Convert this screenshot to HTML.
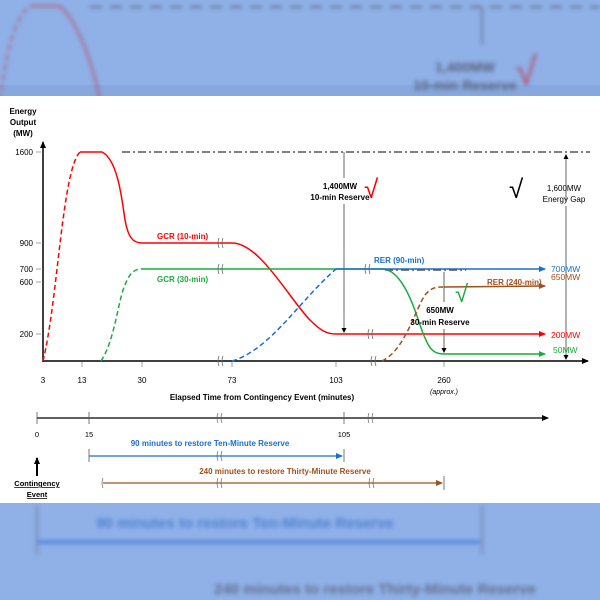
<!DOCTYPE html>
<html><head><meta charset="utf-8"><style>
html,body{margin:0;padding:0;width:600px;height:600px;overflow:hidden;background:#8fb1e8}
svg{display:block;font-family:"Liberation Sans",sans-serif}
</style></head><body>
<svg width="600" height="600" viewBox="0 0 600 600" xmlns="http://www.w3.org/2000/svg">
<defs>
<marker id="ak" markerWidth="8" markerHeight="8" refX="6" refY="3" orient="auto" markerUnits="userSpaceOnUse"><path d="M0,0L7,3L0,6z" fill="#000"/></marker>
<marker id="ar" markerWidth="8" markerHeight="8" refX="6" refY="3" orient="auto" markerUnits="userSpaceOnUse"><path d="M0,0L7,3L0,6z" fill="#f00"/></marker>
<marker id="ag" markerWidth="8" markerHeight="8" refX="6" refY="3" orient="auto" markerUnits="userSpaceOnUse"><path d="M0,0L7,3L0,6z" fill="#1aab3c"/></marker>
<marker id="ab" markerWidth="8" markerHeight="8" refX="6" refY="3" orient="auto" markerUnits="userSpaceOnUse"><path d="M0,0L7,3L0,6z" fill="#1a6fce"/></marker>
<marker id="an" markerWidth="8" markerHeight="8" refX="6" refY="3" orient="auto" markerUnits="userSpaceOnUse"><path d="M0,0L7,3L0,6z" fill="#a0501a"/></marker>
<marker id="as" markerWidth="6" markerHeight="6" refX="4" refY="2.5" orient="auto" markerUnits="userSpaceOnUse"><path d="M0,0L5,2.5L0,5z" fill="#000"/></marker>
<filter id="bl"><feGaussianBlur stdDeviation="2"/></filter>
</defs>
<rect x="0" y="0" width="600" height="96" fill="#8fb1e8"/>
<rect x="0" y="85" width="600" height="12" fill="#7e9fd6" opacity="0.5"/>
<g filter="url(#bl)" opacity="0.75">
<path d="M0,100 Q10,20 30,6" stroke="#c04050" stroke-width="2" fill="none" stroke-dasharray="6,4"/>
<path d="M30,6 L60,6 Q85,30 100,100" stroke="#c04050" stroke-width="2" fill="none"/>
<line x1="90" y1="7" x2="600" y2="7" stroke="#556" stroke-width="2" stroke-dasharray="12,8"/>
<line x1="482" y1="8" x2="482" y2="45" stroke="#556" stroke-width="1.5"/>
<text x="465" y="72" font-size="14" font-weight="bold" fill="#445" text-anchor="middle">1,400MW</text>
<text x="465" y="90" font-size="14" font-weight="bold" fill="#445" text-anchor="middle">10-min Reserve</text>
<text x="515" y="85" font-size="40" fill="#c03040">√</text>
</g>
<rect x="0" y="503" width="600" height="97" fill="#8fb1e8"/>
<g filter="url(#bl)" opacity="0.75">
<text x="245" y="528" font-size="15" font-weight="bold" fill="#3b70c8" text-anchor="middle">90 minutes to restore Ten-Minute Reserve</text>
<line x1="37" y1="505" x2="37" y2="555" stroke="#667" stroke-width="1.5"/>
<line x1="37" y1="542" x2="480" y2="542" stroke="#2f6cd0" stroke-width="3"/>
<line x1="482" y1="505" x2="482" y2="555" stroke="#667" stroke-width="1.5"/>
<text x="375" y="594" font-size="15" font-weight="bold" fill="#556" text-anchor="middle">240 minutes to restore Thirty-Minute Reserve</text>
<line x1="60" y1="612" x2="600" y2="612" stroke="#667" stroke-width="3"/>
</g>
<rect x="0" y="96" width="600" height="407" fill="#fff"/>

<g font-size="8" font-weight="bold" fill="#000" text-anchor="middle">
<text x="23" y="114">Energy</text><text x="23" y="125">Output</text><text x="23" y="136">(MW)</text>
</g>
<line x1="43" y1="362" x2="43" y2="142" stroke="#000" stroke-width="1.5" marker-end="url(#ak)"/>
<line x1="43" y1="361" x2="588" y2="361" stroke="#000" stroke-width="1.5" marker-end="url(#ak)"/>
<g font-size="8" fill="#000" text-anchor="end">
<text x="33" y="155">1600</text><text x="33" y="246">900</text><text x="33" y="272">700</text><text x="33" y="285">600</text><text x="33" y="337">200</text>
</g>
<g stroke="#888" stroke-width="0.8"><line x1="36" y1="152" x2="41" y2="152"/><line x1="36" y1="243" x2="41" y2="243"/><line x1="36" y1="269" x2="41" y2="269"/><line x1="36" y1="282" x2="41" y2="282"/><line x1="36" y1="334" x2="41" y2="334"/>
<line x1="82" y1="362" x2="82" y2="367"/><line x1="142" y1="362" x2="142" y2="367"/><line x1="232" y1="362" x2="232" y2="367"/><line x1="336" y1="362" x2="336" y2="367"/><line x1="444" y1="362" x2="444" y2="367"/></g>
<g font-size="8" fill="#000" text-anchor="middle">
<text x="43" y="383">3</text><text x="82" y="383">13</text><text x="142" y="383">30</text><text x="232" y="383">73</text><text x="336" y="383">103</text><text x="444" y="383">260</text>
<text x="444" y="394" font-style="italic" font-size="7">(approx.)</text>
<text x="262" y="400" font-weight="bold" font-size="8">Elapsed Time from Contingency Event (minutes)</text>
</g>

<line x1="122" y1="152" x2="590" y2="152" stroke="#000" stroke-width="1" stroke-dasharray="8,3,2,3"/>
<line x1="385" y1="270" x2="466" y2="270" stroke="#555" stroke-width="1.5" stroke-dasharray="8,3,2,3"/>

<!-- annotation verticals first (behind curves) -->
<line x1="344" y1="152" x2="344" y2="178" stroke="#666" stroke-width="1"/>
<line x1="344" y1="204" x2="344" y2="332" stroke="#666" stroke-width="1" marker-end="url(#as)"/>
<line x1="566" y1="200" x2="566" y2="155" stroke="#666" stroke-width="1" marker-end="url(#as)"/>
<line x1="566" y1="206" x2="566" y2="359" stroke="#666" stroke-width="1" marker-end="url(#as)"/>
<line x1="444" y1="272" x2="444" y2="302" stroke="#666" stroke-width="1"/>
<line x1="444" y1="329" x2="444" y2="352" stroke="#666" stroke-width="1" marker-end="url(#as)"/>

<path d="M43,361 C58,300 62,170 80,152" stroke="#f00" stroke-width="1.5" fill="none" stroke-dasharray="5,3"/>
<path d="M80,152 L102,152 C118,160 122,200 125,220 C128,236 132,243 142,243 L232,243" stroke="#f00" stroke-width="1.5" fill="none"/>
<path d="M232,243 C260,243 290,300 310,320 C320,330 326,334 336,334 L545,334" stroke="#f00" stroke-width="1.5" fill="none" marker-end="url(#ar)"/>
<path d="M101,361 C115,340 118,300 125,285 C130,272 135,269 142,269" stroke="#1aab3c" stroke-width="1.5" fill="none" stroke-dasharray="5,3"/>
<path d="M142,269 L382,269 C400,269 412,300 420,325 C428,348 432,354 444,354 L545,354" stroke="#1aab3c" stroke-width="1.5" fill="none" marker-end="url(#ag)"/>
<path d="M232,361 C270,350 300,300 336,269" stroke="#1a6fce" stroke-width="1.5" fill="none" stroke-dasharray="5,3"/>
<line x1="336" y1="269" x2="545" y2="269" stroke="#1a6fce" stroke-width="1.5" marker-end="url(#ab)"/>
<path d="M382,361 C405,350 415,310 425,295 C432,287 436,287 444,287" stroke="#a0501a" stroke-width="1.5" fill="none" stroke-dasharray="5,3"/>
<line x1="444" y1="287" x2="545" y2="286" stroke="#a0501a" stroke-width="1.5" marker-end="url(#an)"/>

<g stroke="#666" stroke-width="0.8" fill="none">
<path d="M219,238 q-2,5 0,10 M223,238 q-2,5 0,10"/>
<path d="M219,264 q-2,5 0,10 M223,264 q-2,5 0,10"/>
<path d="M219,356 q-2,5 0,10 M223,356 q-2,5 0,10"/>
<path d="M366,264 q-2,5 0,10 M370,264 q-2,5 0,10"/>
<path d="M369,329 q-2,5 0,10 M373,329 q-2,5 0,10"/>
<path d="M372,356 q-2,5 0,10 M376,356 q-2,5 0,10"/>
</g>

<g font-size="8" font-weight="bold">
<text x="157" y="239" fill="#f00">GCR (10-min)</text>
<text x="157" y="282" fill="#1aab3c">GCR (30-min)</text>
<text x="374" y="263" fill="#1a6fce">RER (90-min)</text>
<text x="487" y="285" fill="#a0501a">RER (240-min)</text>
</g>
<g font-size="8.5">
<text x="551" y="272" fill="#1a6fce">700MW</text>
<text x="551" y="280" fill="#a0501a">650MW</text>
<text x="551" y="338" fill="#f00">200MW</text>
<text x="553" y="353" fill="#1aab3c">50MW</text>
</g>

<text x="340" y="189" font-size="8" font-weight="bold" text-anchor="middle">1,400MW</text>
<text x="340" y="200" font-size="8" font-weight="bold" text-anchor="middle">10-min Reserve</text>
<text x="364" y="198" font-size="26" fill="#f00">√</text>
<text x="564" y="191" font-size="8" text-anchor="middle">1,600MW</text>
<text x="564" y="202" font-size="8" text-anchor="middle">Energy Gap</text>
<text x="509" y="198" font-size="26" fill="#000">√</text>
<text x="440" y="313" font-size="8" font-weight="bold" text-anchor="middle">650MW</text>
<text x="440" y="325" font-size="8" font-weight="bold" text-anchor="middle">30-min Reserve</text>
<text x="455" y="302" font-size="24" fill="#1aab3c">√</text>

<line x1="37" y1="418" x2="548" y2="418" stroke="#000" stroke-width="1.3" marker-end="url(#ak)"/>
<g stroke="#555" stroke-width="0.8"><line x1="37" y1="412" x2="37" y2="424"/><line x1="89" y1="412" x2="89" y2="424"/><line x1="344" y1="412" x2="344" y2="424"/>
<line x1="89" y1="449" x2="89" y2="462"/><line x1="344" y1="449" x2="344" y2="462"/><line x1="444" y1="476" x2="444" y2="490"/></g>
<g stroke="#666" stroke-width="0.7" fill="none">
<path d="M218,413 q-2,5 0,10 M222,413 q-2,5 0,10"/>
<path d="M369,413 q-2,5 0,10 M373,413 q-2,5 0,10"/>
<path d="M218,451 q-2,5 0,10 M222,451 q-2,5 0,10"/>
<path d="M218,478 q-2,5 0,10 M222,478 q-2,5 0,10"/>
<path d="M370,478 q-2,5 0,10 M374,478 q-2,5 0,10"/>
<path d="M103,478 q-2,5 0,10"/>
</g>
<g font-size="7.5" text-anchor="middle"><text x="37" y="437">0</text><text x="89" y="437">15</text><text x="344" y="437">105</text></g>
<line x1="89" y1="456" x2="342" y2="456" stroke="#1a6fce" stroke-width="1.3" marker-end="url(#ab)"/>
<text x="210" y="446" font-size="8" font-weight="bold" fill="#1a6fce" text-anchor="middle">90 minutes to restore Ten-Minute Reserve</text>
<line x1="103" y1="483" x2="442" y2="483" stroke="#a0501a" stroke-width="1.3" marker-end="url(#an)"/>
<text x="285" y="474" font-size="8" font-weight="bold" fill="#a0501a" text-anchor="middle">240 minutes to restore Thirty-Minute Reserve</text>
<line x1="37" y1="476" x2="37" y2="458" stroke="#000" stroke-width="2" marker-end="url(#ak)"/>
<text x="37" y="486" font-size="7.5" font-weight="bold" text-anchor="middle" text-decoration="underline">Contingency</text>
<text x="37" y="497" font-size="7.5" font-weight="bold" text-anchor="middle" text-decoration="underline">Event</text>
</svg>
</body></html>
